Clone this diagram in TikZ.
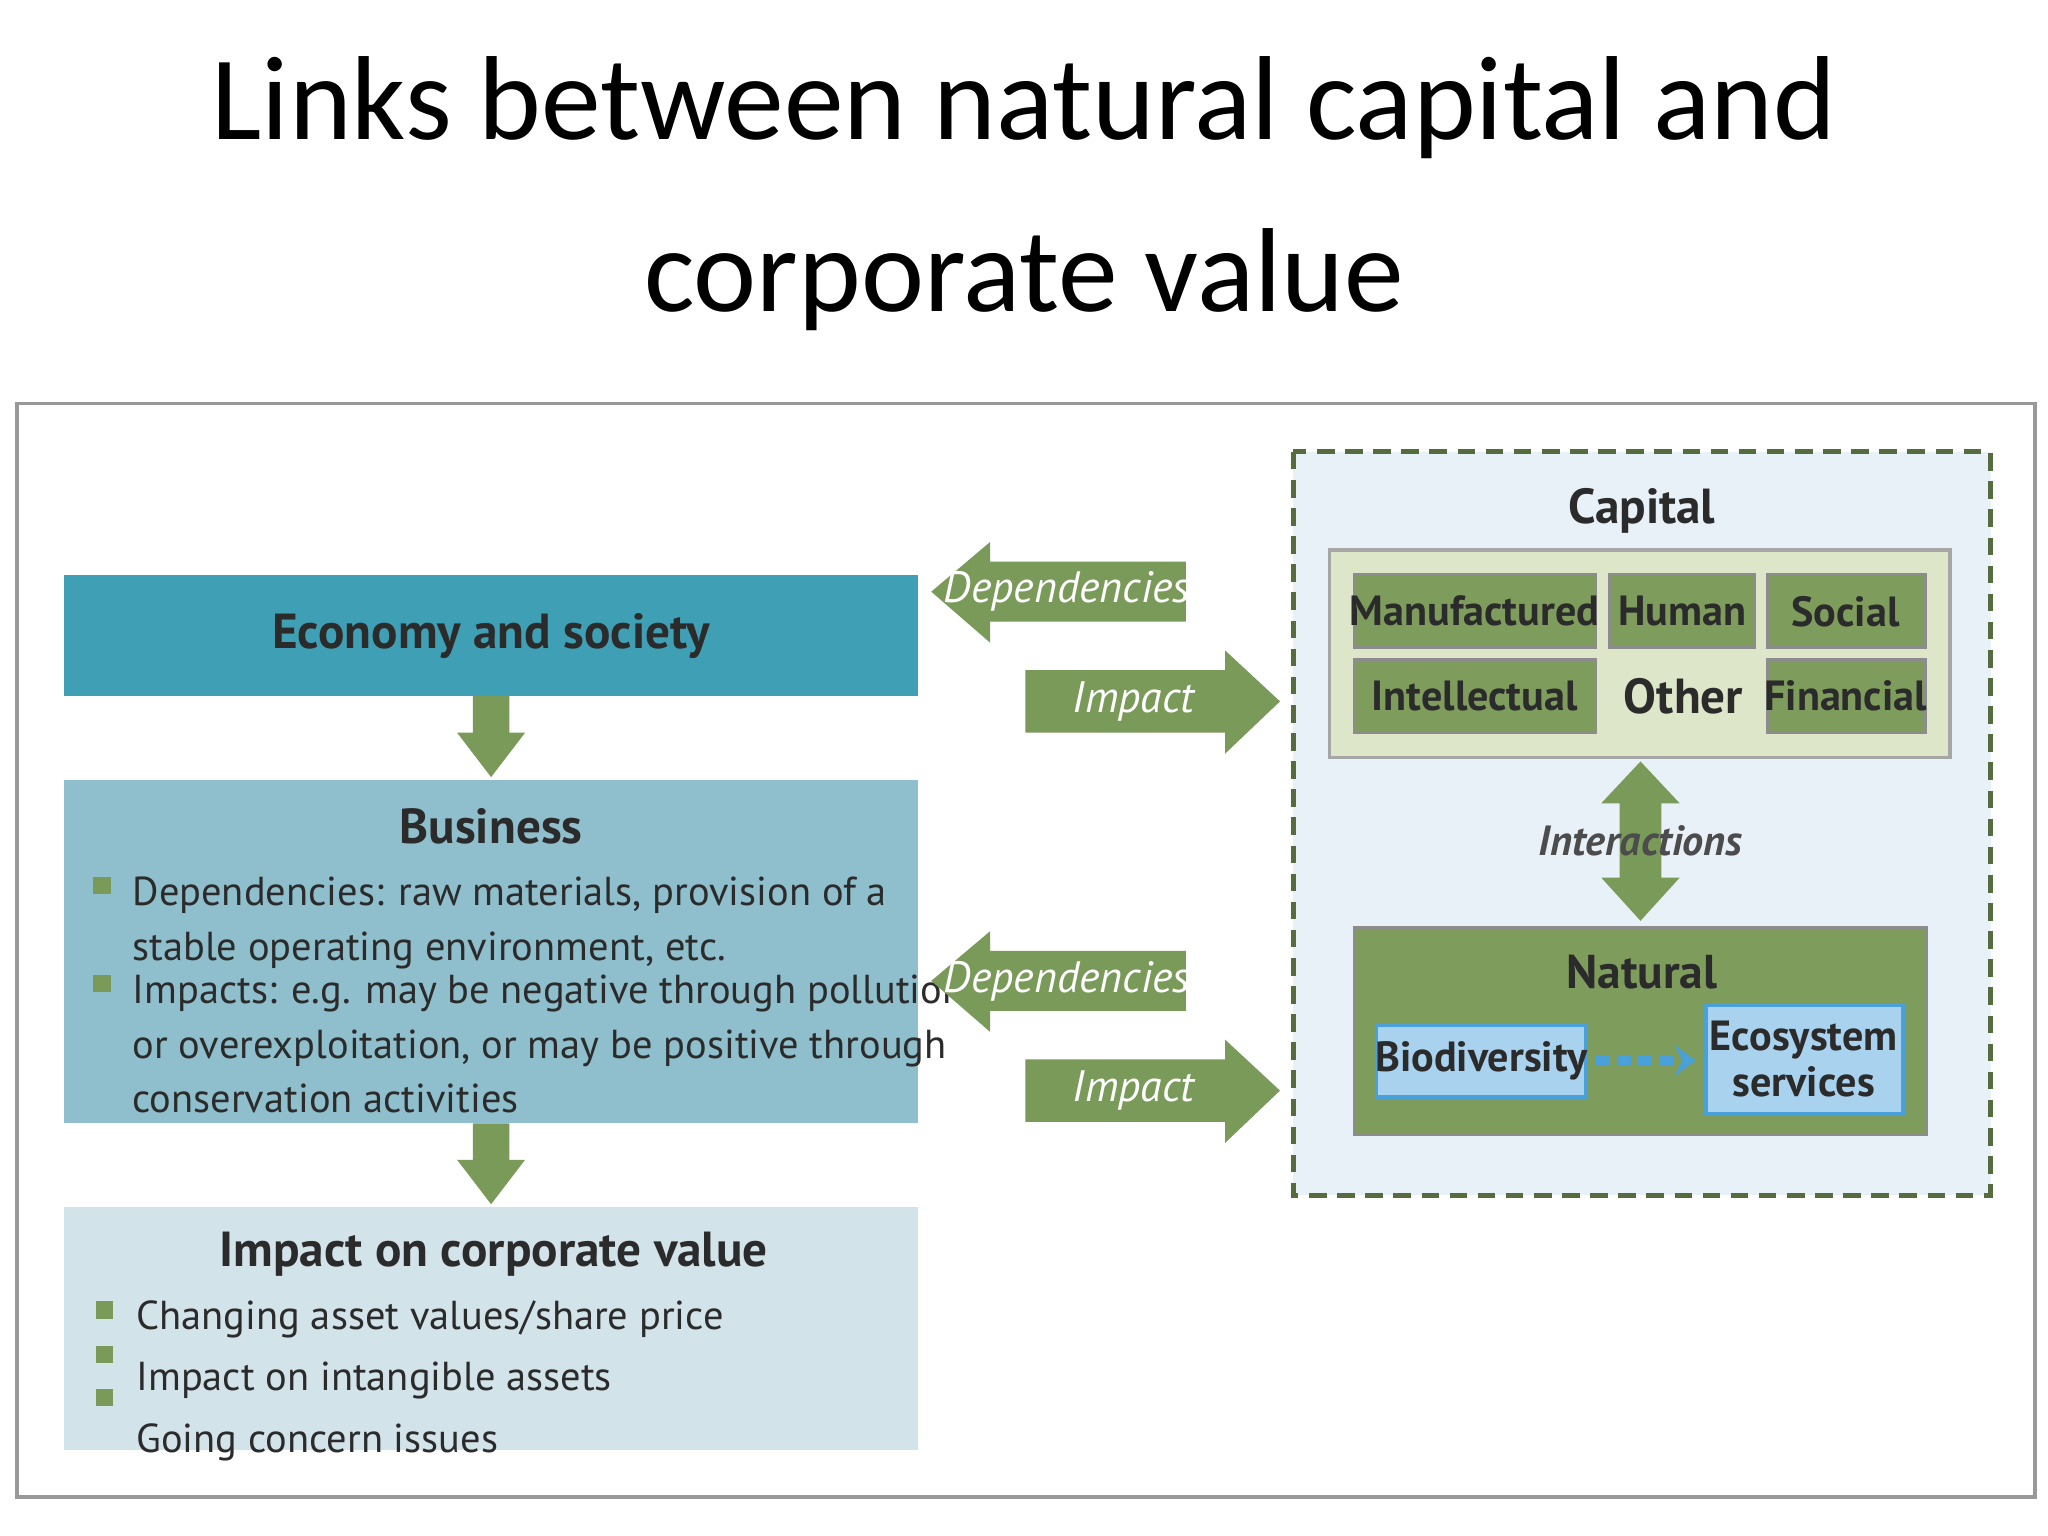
\documentclass[tikz,border=0pt]{standalone}
\usepackage{fontspec}
\setmainfont{PT Sans}
\newfontfamily\titlef{Carlito}
\definecolor{teal1}{HTML}{3FA0B5}
\definecolor{bizb}{HTML}{8FBFCC}
\definecolor{impb}{HTML}{D2E3EA}
\definecolor{grn}{HTML}{7A9A5A}
\definecolor{cell}{HTML}{7E9C5C}
\definecolor{capb}{HTML}{DDE6C8}
\definecolor{dashb}{HTML}{E8F1F7}
\definecolor{lb}{HTML}{A8D2EE}
\definecolor{bb}{HTML}{4AA0D8}
\definecolor{txt}{HTML}{2B2B2B}
\begin{document}
\begin{tikzpicture}[x=0.013061cm,y=-0.013061cm,
 cellb/.style={draw=black!45,fill=cell,line width=0.8pt},
 celltxt/.style={font=\bfseries\fontsize{12}{14}\selectfont,text=txt},
 arr/.style={fill=grn},
 arrtxt/.style={text=white,font=\itshape\fontsize{12.5}{14}\selectfont},
 bul/.style={fill=grn,minimum size=5pt,inner sep=0pt},
 body/.style={font=\fontsize{11.5}{15.5}\selectfont,text=txt,align=left,anchor=north west}]
\useasboundingbox (0,0) rectangle (1568,1176);
\fill[white] (0,0) rectangle (1568,1176);
\node[font=\titlef\fontsize{34}{49}\selectfont,align=center] (title) at (784,148) {Links between natural capital and\\corporate value};
\draw[black!40,line width=1pt] (13,309) rectangle (1558,1146);
% left column
\fill[teal1] (49,440) rectangle (703,533);
\node[celltxt,font=\bfseries\fontsize{14}{16}\selectfont] (eco) at (376,487) {Economy and society};
\fill[bizb] (49,597) rectangle (703,860);
\node[celltxt,font=\bfseries\fontsize{14}{16}\selectfont] (biz) at (376,633) {Business};
\fill[impb] (49,924) rectangle (703,1110);
\node[celltxt,font=\bfseries\fontsize{14}{16}\selectfont] (icv) at (378,960) {Impact on corporate value};
\foreach \y in {533,860}{
 \fill[arr] (362,\y) -- (390,\y) -- (390,\y+28) -- (402,\y+28) -- (376,\y+62) -- (350,\y+28) -- (362,\y+28) -- cycle;}
\node[bul] (b1) at (78,678) {};
\node[body] (t1) at (92,662) {Dependencies: raw materials, provision of a\\stable operating environment, etc.};
\node[bul] (b2) at (78,753) {};
\node[body] (t2) at (92,737) {Impacts: e.g. may be negative through pollution\\or overexploitation, or may be positive through\\conservation activities};
\node[bul] (b3) at (80,1003) {};
\node[body,font=\fontsize{11.5}{17.5}\selectfont] (t3) at (95,986) {Changing asset values/share price\\Impact on intangible assets\\Going concern issues};
\node[bul] at (80,1037) {};
\node[bul] at (80,1070) {};
% arrows between
\foreach \dy/\n in {0/a,298/b}{
 \fill[arr] (713,453+\dy) -- (758,415+\dy) -- (758,430+\dy) -- (908,430+\dy) -- (908,476+\dy) -- (758,476+\dy) -- (758,492+\dy) -- cycle;
 \node[arrtxt] (dep\n) at (817,453+\dy) {Dependencies};
 \fill[arr] (785,513+\dy) -- (938,513+\dy) -- (938,498+\dy) -- (980,537+\dy) -- (938,577+\dy) -- (938,561+\dy) -- (785,561+\dy) -- cycle;
 \node[arrtxt] (imp\n) at (868,537+\dy) {Impact};}
% right
\fill[dashb] (990,346) rectangle (1524,915);
\draw[grn!70!black,dashed,line width=1.4pt,dash pattern=on 5pt off 3pt] (990,346) rectangle (1524,915);
\node[celltxt,font=\bfseries\fontsize{14}{16}\selectfont] (cap) at (1257,391) {Capital};
\draw[black!35,fill=capb,line width=1pt] (1018,421) rectangle (1493,580);
\draw[cellb] (1037,440) rectangle (1222,496); \node[celltxt] (man) at (1129,468) {Manufactured};
\draw[cellb] (1232,440) rectangle (1343,496); \node[celltxt] (hum) at (1288,468) {Human};
\draw[cellb] (1353,440) rectangle (1474,496); \node[celltxt] (soc) at (1413,468) {Social};
\draw[cellb] (1037,505) rectangle (1222,561); \node[celltxt] (int) at (1129,533) {Intellectual};
\node[celltxt,font=\bfseries\fontsize{14}{16}\selectfont] (oth) at (1289,533) {Other};
\draw[cellb] (1353,505) rectangle (1474,561); \node[celltxt] (fin) at (1413,533) {Financial};
\fill[arr] (1256,583) -- (1286,615) -- (1272,615) -- (1272,672) -- (1286,672) -- (1256,705) -- (1226,672) -- (1240,672) -- (1240,615) -- (1226,615) -- cycle;
\node[celltxt,font=\bfseries\itshape\fontsize{12}{14}\selectfont,text=black!70] (inter) at (1256,644) {Interactions};
\draw[cellb] (1037,710) rectangle (1475,869);
\node[celltxt,font=\bfseries\fontsize{13.5}{16}\selectfont] (nat) at (1257,744) {Natural};
\draw[draw=bb,fill=lb,line width=1pt] (1054,785) rectangle (1214,840);
\node[celltxt] (bio) at (1134,812) {Biodiversity};
\draw[draw=bb,fill=lb,line width=1pt] (1306,770) rectangle (1457,853);
\node[celltxt,align=center,font=\bfseries\fontsize{12}{13}\selectfont] (eco2) at (1381,811) {Ecosystem\\services};
\draw[bb,line width=3pt,dash pattern=on 4pt off 2pt] (1222,812) -- (1284,812);
\fill[bb] (1282,800) -- (1298,812) -- (1282,824) -- (1288,812) -- cycle;
\end{tikzpicture}
\end{document}
